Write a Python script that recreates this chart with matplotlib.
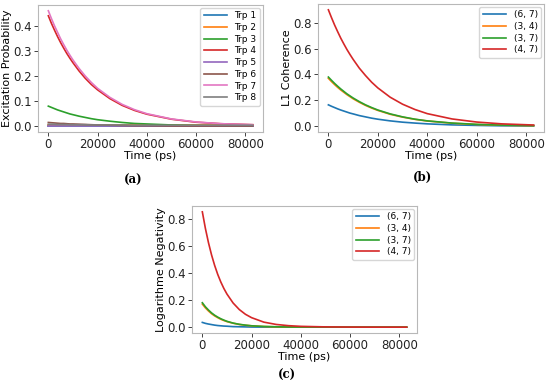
import matplotlib
matplotlib.use("Agg")
import matplotlib.pyplot as plt

# time samples (ps)
time_ps = [0, 1250, 2500, 3750, 5000, 6250, 7500, 8750, 10000, 12500, 15000, 17500,
           20000, 25000, 30000, 35000, 40000, 50000, 60000, 70000, 83000]

# Panel (a): excitation probability per Trp
trp_labels = ["Trp 1", "Trp 2", "Trp 3", "Trp 4", "Trp 5", "Trp 6", "Trp 7", "Trp 8"]
trp1 = [0.002] * 21
trp2 = [0.003] * 21
trp3 = [0.080, 0.075, 0.070, 0.065, 0.061, 0.057, 0.053, 0.049, 0.046, 0.040, 0.035, 0.030,
        0.026, 0.020, 0.015, 0.011, 0.009, 0.005, 0.003, 0.002, 0.001]
trp4 = [0.440, 0.410, 0.383, 0.357, 0.333, 0.311, 0.290, 0.271, 0.253, 0.220, 0.191, 0.166,
        0.145, 0.110, 0.083, 0.063, 0.048, 0.028, 0.016, 0.010, 0.006]
trp5 = [0.001] * 21
trp6 = [0.015, 0.014, 0.013, 0.012, 0.011, 0.011, 0.010, 0.009, 0.009, 0.008, 0.007, 0.006,
        0.005, 0.004, 0.003, 0.002, 0.002, 0.001, 0.001, 0.001, 0.001]
trp7 = [0.460, 0.429, 0.400, 0.374, 0.348, 0.325, 0.303, 0.283, 0.264, 0.230, 0.200, 0.174,
        0.151, 0.115, 0.087, 0.066, 0.050, 0.029, 0.017, 0.010, 0.006]
trp8 = [0.008, 0.008, 0.008, 0.007, 0.007, 0.007, 0.007, 0.006, 0.006, 0.006, 0.006, 0.005,
        0.005, 0.005, 0.005, 0.004, 0.004, 0.004, 0.004, 0.004, 0.004]
trp_series = [trp1, trp2, trp3, trp4, trp5, trp6, trp7, trp8]

# Panel (b): L1 coherence per pair
pair_labels = ["(6, 7)", "(3, 4)", "(3, 7)", "(4, 7)"]
l1_67 = [0.165, 0.154, 0.144, 0.134, 0.125, 0.117, 0.109, 0.101, 0.095, 0.082, 0.072, 0.062,
         0.054, 0.041, 0.031, 0.024, 0.018, 0.010, 0.006, 0.003, 0.002]
l1_34 = [0.370, 0.345, 0.322, 0.300, 0.280, 0.262, 0.244, 0.228, 0.212, 0.185, 0.161, 0.140,
         0.122, 0.092, 0.070, 0.053, 0.040, 0.023, 0.013, 0.007, 0.004]
l1_37 = [0.380, 0.355, 0.331, 0.309, 0.288, 0.269, 0.250, 0.234, 0.218, 0.190, 0.165, 0.144,
         0.125, 0.095, 0.072, 0.054, 0.041, 0.024, 0.014, 0.008, 0.004]
l1_47 = [0.900, 0.840, 0.783, 0.731, 0.681, 0.636, 0.593, 0.554, 0.517, 0.449, 0.392, 0.340,
         0.296, 0.224, 0.170, 0.129, 0.097, 0.056, 0.032, 0.018, 0.009]
l1_series = [l1_67, l1_34, l1_37, l1_47]

# Panel (c): logarithmic negativity per pair
ln_67 = [0.035, 0.028, 0.023, 0.019, 0.015, 0.012, 0.010, 0.008, 0.007, 0.004, 0.003, 0.002,
         0.001, 0.0005, 0.0, 0.0, 0.0, 0.0, 0.0, 0.0, 0.0]
ln_34 = [0.170, 0.142, 0.119, 0.099, 0.083, 0.070, 0.058, 0.049, 0.041, 0.029, 0.020, 0.014,
         0.010, 0.005, 0.002, 0.001, 0.001, 0.0, 0.0, 0.0, 0.0]
ln_37 = [0.180, 0.150, 0.126, 0.105, 0.088, 0.074, 0.062, 0.052, 0.043, 0.030, 0.021, 0.015,
         0.010, 0.005, 0.003, 0.001, 0.001, 0.0, 0.0, 0.0, 0.0]
ln_47 = [0.850, 0.727, 0.622, 0.532, 0.455, 0.389, 0.333, 0.285, 0.244, 0.178, 0.130, 0.095,
         0.070, 0.037, 0.020, 0.011, 0.006, 0.002, 0.0005, 0.0, 0.0]
ln_series = [ln_67, ln_34, ln_37, ln_47]

xticks = [0, 20000, 40000, 60000, 80000]

trp_colors = ["#1f77b4", "#ff7f0e", "#2ca02c", "#d62728", "#9467bd", "#8c564b", "#e377c2", "#7f7f7f"]
pair_colors = ["#1f77b4", "#ff7f0e", "#2ca02c", "#d62728"]

W, H = 550, 388
fig = plt.figure(figsize=(5.5, 3.88), dpi=100)

def rect(l, t, r, b):
    return [l / W, 1 - b / H, (r - l) / W, (b - t) / H]

def style(ax, ylabel):
    for s in ax.spines.values():
        s.set_color("#b8b8b8")
        s.set_linewidth(0.8)
    ax.tick_params(labelsize=8.5, length=3, width=0.6, colors="#222222", pad=1.5)
    ax.set_xticks(xticks)
    ax.set_xlabel("Time (ps)", fontsize=8, labelpad=0)
    ax.set_ylabel(ylabel, fontsize=8, labelpad=1)

def legend(ax):
    ax.legend(loc="upper right", fontsize=6.5, handlelength=2.6, labelspacing=0.3,
              borderaxespad=0.3, handletextpad=0.8, frameon=True, fancybox=True)

axa = fig.add_axes(rect(38, 5, 263, 132))
for lab, ser, c in zip(trp_labels, trp_series, trp_colors):
    axa.plot(time_ps, ser, color=c, lw=1.2, label=lab)
axa.set_xlim(-4200, 87200)
axa.set_ylim(-0.023, 0.483)
axa.set_yticks([0.0, 0.1, 0.2, 0.3, 0.4])
style(axa, "Excitation Probability")
legend(axa)

axb = fig.add_axes(rect(318, 4, 544, 132))
for lab, ser, c in zip(pair_labels, l1_series, pair_colors):
    axb.plot(time_ps, ser, color=c, lw=1.2, label=lab)
axb.set_xlim(-4200, 87200)
axb.set_ylim(-0.045, 0.945)
axb.set_yticks([0.0, 0.2, 0.4, 0.6, 0.8])
style(axb, "L1 Coherence")
legend(axb)

axc = fig.add_axes(rect(192, 206, 417, 333))
for lab, ser, c in zip(pair_labels, ln_series, pair_colors):
    axc.plot(time_ps, ser, color=c, lw=1.2, label=lab)
axc.set_xlim(-4200, 87200)
axc.set_ylim(-0.043, 0.893)
axc.set_yticks([0.0, 0.2, 0.4, 0.6, 0.8])
style(axc, "Logarithme Negativity")
legend(axc)

fig.text(133 / W, 1 - 180 / H, "(a)", ha="center", va="center", fontsize=8.5,
         fontweight="bold", family="DejaVu Serif")
fig.text(423 / W, 1 - 177 / H, "(b)", ha="center", va="center", fontsize=8.5,
         fontweight="bold", family="DejaVu Serif")
fig.text(287 / W, 1 - 375 / H, "(c)", ha="center", va="center", fontsize=8.5,
         fontweight="bold", family="DejaVu Serif")

fig.savefig("out.png", dpi=100)
